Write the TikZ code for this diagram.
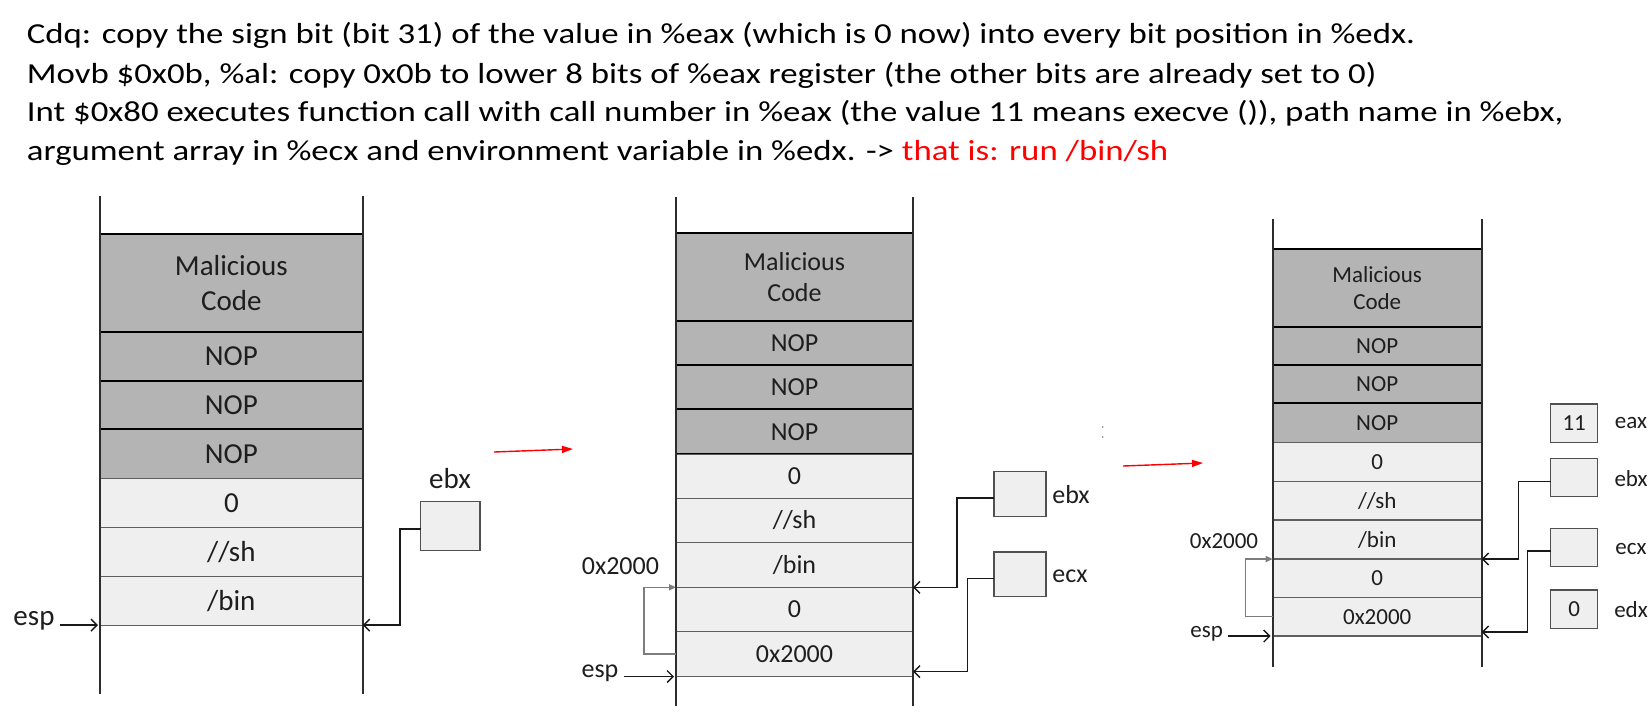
\documentclass[tikz,border=0pt]{standalone}
\usepackage{fontspec}
\setmainfont{Carlito}
\newfontfamily\topfont[FakeStretch=1.2]{Carlito}
\usetikzlibrary{arrows.meta}
\definecolor{darkfill}{RGB}{180,180,180}
\definecolor{lightfill}{RGB}{239,239,239}
\definecolor{cellline}{RGB}{95,95,95}
\definecolor{regline}{RGB}{80,80,80}
\definecolor{celltext}{RGB}{30,30,30}
\definecolor{stackcol}{RGB}{45,45,45}
\definecolor{conncol}{RGB}{25,25,25}
\definecolor{loopcol}{RGB}{125,125,125}
\newcommand\Lf{\fontsize{29}{34.5}\selectfont}
\newcommand\Mf{\fontsize{26}{31}\selectfont}
\newcommand\Rf{\fontsize{23}{27}\selectfont}
\newcommand\Tf{\topfont\fontsize{29}{34}\selectfont}
\newcommand\mkcell[7]{\node[#2, anchor=north west, minimum width={(#5-#3)*1pt}, minimum height={(#6-#4)*1pt}] (#1) at (#3,#4) {#7};}
\tikzset{
 darkcell/.style={draw=black, line width=2.2pt, fill=darkfill, inner sep=0pt, outer sep=0pt, align=center, text=celltext},
 lightcell/.style={draw=cellline, line width=1.2pt, fill=lightfill, inner sep=0pt, outer sep=0pt, align=center, text=celltext},
 regbox/.style={draw=regline, line width=1.5pt, fill=lightfill, inner sep=0pt, outer sep=0pt, text=celltext, anchor=north west},
 stackline/.style={draw=stackcol, line width=1.6pt},
 conn/.style={draw=conncol, line width=1.4pt, -{Straight Barb[length=6pt,width=12pt]}},
 loopconn/.style={draw=loopcol, line width=1.5pt, -{Triangle[length=7pt,width=6pt]}},
 redarrow/.style={draw=red, line width=1.4pt, -{Triangle[length=11pt,width=7pt]}},
 lbl/.style={inner sep=0pt, text=celltext},
 toptext/.style={inner sep=0pt, anchor=base west, font=\Tf},
}
\begin{document}
\begin{tikzpicture}[x=1pt,y=-1pt]
\useasboundingbox[fill=white] (0,0) rectangle (1651,721);

% ---------- top text ----------
\node[toptext] (t1) at (26.7,43.3) {Cdq: copy the sign bit (bit 31) of the value in \%eax (which is 0 now) into every bit position in \%edx.};
\node[toptext] (t2) at (26.7,83.3) {Movb \$0x0b, \%al: copy 0x0b to lower 8 bits of \%eax register (the other bits are already set to 0)};
\node[toptext] (t3) at (26.7,121.7) {Int \$0x80 executes function call with call number in \%eax (the value 11 means execve ()), path name in \%ebx,};
\node[toptext] (t4) at (26.7,160) {argument array in \%ecx and environment variable in \%edx. -> \textcolor{red}{that is: run /bin/sh}};

% ---------- left stack ----------
\begin{scope}[font=\Lf]
\mkcell{l1}{darkcell}{100}{234.2}{362.7}{331.8}{Malicious\\Code}
\mkcell{l2}{darkcell}{100}{331.8}{362.7}{380.8}{NOP}
\mkcell{l3}{darkcell}{100}{380.8}{362.7}{429.1}{NOP}
\mkcell{l4}{darkcell}{100}{429.1}{362.7}{478.8}{NOP}
\mkcell{l5}{lightcell}{100}{478.8}{362.7}{527.5}{0}
\mkcell{l6}{lightcell}{100}{527.5}{362.7}{576.1}{//sh}
\mkcell{l7}{lightcell}{100}{576.1}{362.7}{625.1}{/bin}
\draw[stackline] (100,195.5) -- (100,694);
\draw[stackline] (362.7,195.5) -- (362.7,694);
\node[regbox, minimum width=59.3pt, minimum height=48.7pt] (lebx) at (420.7,501.6) {};
\node[lbl] (lebxl) at (450,478.5) {ebx};
\node[lbl] (lesp) at (34,621) {esp};
\end{scope}
\draw[conn] ([yshift=-3pt]lebx.west) -- ++(-20.7,0) |- (l7.south east);
\draw[conn] ([xshift=5pt]lesp.east |- l7.south west) -- ([xshift=-2pt]l7.south west);

% ---------- red arrow 1 ----------
\coordinate (ra1s) at (494,452);
\coordinate (ra1e) at (573,449);
\draw[redarrow] (ra1s) -- (ra1e);

% ---------- middle stack ----------
\begin{scope}[font=\Mf]
\mkcell{m1}{darkcell}{676}{232.6}{913}{320.8}{Malicious\\Code}
\mkcell{m2}{darkcell}{676}{320.8}{913}{365.1}{NOP}
\mkcell{m3}{darkcell}{676}{365.1}{913}{409.1}{NOP}
\mkcell{m4}{darkcell}{676}{409.1}{913}{454.4}{NOP}
\mkcell{m5}{lightcell}{676}{454.4}{913}{498.3}{0}
\mkcell{m6}{lightcell}{676}{498.3}{913}{542.6}{//sh}
\mkcell{m7}{lightcell}{676}{542.6}{913}{587.3}{/bin}
\mkcell{m8}{lightcell}{676}{587.3}{913}{631.6}{0}
\mkcell{m9}{lightcell}{676}{631.6}{913}{676.5}{0x2000}
\draw[stackline] (676,197.3) -- (676,706);
\draw[stackline] (913,197.3) -- (913,706);
\node[regbox, minimum width=52pt, minimum height=44.6pt] (mebx) at (994,471.7) {};
\node[regbox, minimum width=52pt, minimum height=44.3pt] (mecx) at (994,552) {};
\node[lbl] (mebxl) at (1071,494.9) {ebx};
\node[lbl] (mecxl) at (1070,576.2) {ecx};
\node[lbl] (maddr) at (620.4,565.8) {0x2000};
\node[lbl] (mesp) at (600,673) {esp};
\end{scope}
\draw[conn] ([yshift=-4pt]mebx.west) -- ++(-37,0) |- (m7.south east);
\draw[conn] ([yshift=-4.5pt]mecx.west) -- ++(-26.6,0) |- ([yshift=5pt]m9.south east);
\draw[loopconn] (m9.west) -- ++(-32,0) |- (m7.south west);
\draw[conn] ([xshift=5pt]mesp.east |- m9.south west) -- ([xshift=-2pt]m9.south west);

% ---------- red arrow 2 ----------
\coordinate (ra2s) at (1123,466);
\coordinate (ra2e) at (1203,463);
\draw[redarrow] (ra2s) -- (ra2e);
\fill[loopcol] (1102.7,427) circle (0.9);
\fill[loopcol] (1102.7,437) circle (0.9);

% ---------- right stack ----------
\begin{scope}[font=\Rf]
\mkcell{r1}{darkcell}{1272.7}{249.3}{1481.7}{326.7}{Malicious\\Code}
\mkcell{r2}{darkcell}{1272.7}{326.7}{1481.7}{365}{NOP}
\mkcell{r3}{darkcell}{1272.7}{365}{1481.7}{403.3}{NOP}
\mkcell{r4}{darkcell}{1272.7}{403.3}{1481.7}{442.7}{NOP}
\mkcell{r5}{lightcell}{1272.7}{442.7}{1481.7}{481.7}{0}
\mkcell{r6}{lightcell}{1272.7}{481.7}{1481.7}{520}{//sh}
\mkcell{r7}{lightcell}{1272.7}{520}{1481.7}{559}{/bin}
\mkcell{r8}{lightcell}{1272.7}{559}{1481.7}{597.3}{0}
\mkcell{r9}{lightcell}{1272.7}{597.3}{1481.7}{636}{0x2000}
\draw[stackline] (1272.7,219.3) -- (1272.7,666.7);
\draw[stackline] (1481.7,219.3) -- (1481.7,666.7);
\node[regbox, minimum width=47pt, minimum height=38.7pt] (reax) at (1550.7,404) {};
\node[lbl] at (reax.center) {11};
\node[regbox, minimum width=47pt, minimum height=38.4pt] (rebx) at (1550.7,458.3) {};
\node[regbox, minimum width=47pt, minimum height=38.4pt] (recx) at (1550.7,528.3) {};
\node[regbox, minimum width=47pt, minimum height=38.3pt] (redx) at (1550.7,590) {};
\node[lbl] at (redx.center) {0};
\node[lbl] (reaxl) at (1631,423.3) {eax};
\node[lbl] (rebxl) at (1631,478.3) {ebx};
\node[lbl] (recxl) at (1631,549.3) {ecx};
\node[lbl] (redxl) at (1631,610) {edx};
\node[lbl] (raddr) at (1224,540.7) {0x2000};
\node[lbl] (resp) at (1206.7,633.3) {esp};
\end{scope}
\draw[conn] ([yshift=-4pt]rebx.west) -- ++(-32.4,0) |- (r7.south east);
\draw[conn] ([yshift=-3.5pt]recx.west) -- ++(-23,0) |- ([yshift=4pt]r9.south east);
\draw[loopconn] (r9.west) -- ++(-27,0) |- (r7.south west);
\draw[conn] ([xshift=5pt]resp.east |- r9.south west) -- ([xshift=-2pt]r9.south west);
\end{tikzpicture}
\end{document}
